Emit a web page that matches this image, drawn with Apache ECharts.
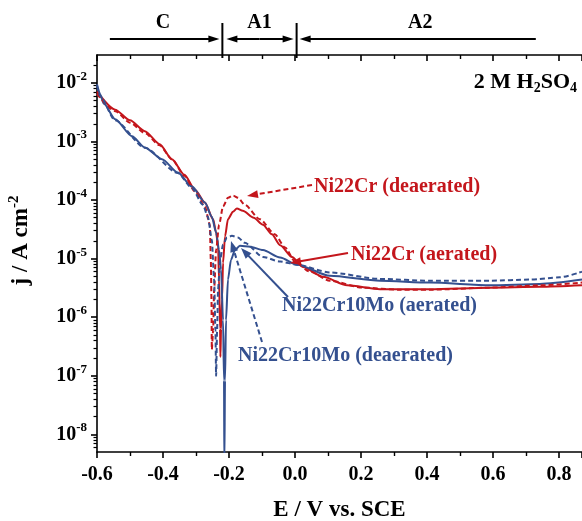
<!DOCTYPE html>
<html>
<head>
<meta charset="utf-8">
<script src="https://cdn.jsdelivr.net/npm/echarts@6/dist/echarts.min.js"></script>
<style>
html,body{margin:0;padding:0;background:#fff;}
#c{width:582px;height:521px;}
</style>
</head>
<body>
<div id="c"></div>
<script>
// ---------------- data (E in V vs SCE, j in A cm^-2) ----------------
const ncAerE = [-0.600,-0.545,-0.500,-0.455,-0.410,-0.373,-0.335,-0.303,-0.273,-0.248,-0.239,-0.233,-0.230,-0.227,-0.226,-0.224,-0.221,-0.218,-0.212,-0.203,-0.188,-0.176,-0.158,-0.125,-0.097,-0.070,-0.045,-0.009,0.024,0.085,0.158,0.258,0.409,0.591,0.742,0.870];
const ncAerJ = [7.1e-3,3.5e-3,2.3e-3,1.5e-3,9.0e-4,5.0e-4,2.7e-4,1.5e-4,9.1e-5,4.7e-5,2.8e-5,1.6e-5,4.4e-6,6.3e-7,2.1e-7,6.3e-7,2.0e-6,8.5e-6,2.4e-5,4.7e-5,6.3e-5,7.2e-5,6.6e-5,5.0e-5,3.8e-5,2.6e-5,1.7e-5,1.07e-5,7.2e-6,4.9e-6,3.5e-6,3.0e-6,3.0e-6,3.2e-6,3.3e-6,3.5e-6];

const ncDeaE = [-0.600,-0.545,-0.500,-0.455,-0.410,-0.373,-0.335,-0.303,-0.273,-0.258,-0.255,-0.253,-0.252,-0.248,-0.245,-0.239,-0.230,-0.218,-0.203,-0.188,-0.173,-0.152,-0.106,-0.061,-0.030,0.000,0.045,0.106,0.206,0.318,0.409,0.591,0.742,0.870];
const ncDeaJ = [6.5e-3,3.3e-3,2.1e-3,1.4e-3,8.6e-4,5.0e-4,2.6e-4,1.4e-4,7.8e-5,3.8e-5,9.5e-6,2.0e-6,2.8e-7,6.0e-7,3.0e-6,1.4e-5,3.8e-5,7.8e-5,1.1e-4,1.2e-4,1.1e-4,8.3e-5,4.7e-5,2.6e-5,1.55e-5,8.9e-6,6.0e-6,4.2e-6,3.2e-6,2.95e-6,2.95e-6,3.2e-6,3.5e-6,3.9e-6];

const nmAerE = [-0.600,-0.591,-0.579,-0.545,-0.494,-0.455,-0.403,-0.355,-0.312,-0.273,-0.252,-0.239,-0.230,-0.224,-0.218,-0.215,-0.214,-0.212,-0.209,-0.203,-0.194,-0.182,-0.167,-0.136,-0.097,-0.045,0.006,0.106,0.258,0.409,0.591,0.742,0.870];
const nmAerJ = [9.5e-3,6.5e-3,4.4e-3,2.4e-3,1.23e-3,7.9e-4,5.0e-4,2.95e-4,1.7e-4,9.1e-5,5.2e-5,2.8e-5,1.4e-5,6.5e-6,8.9e-7,8.3e-8,3.0e-9,8.3e-8,8.9e-7,4.4e-6,9.5e-6,1.4e-5,1.66e-5,1.6e-5,1.4e-5,1.05e-5,7.9e-6,5.1e-6,4.2e-6,3.9e-6,3.5e-6,3.7e-6,4.4e-6];

const nmDeaE = [-0.600,-0.591,-0.545,-0.455,-0.355,-0.312,-0.279,-0.264,-0.252,-0.245,-0.241,-0.239,-0.236,-0.233,-0.227,-0.218,-0.206,-0.191,-0.173,-0.152,-0.097,-0.045,0.006,0.106,0.258,0.409,0.591,0.712,0.803,0.870];
const nmDeaJ = [9.0e-3,6.0e-3,2.3e-3,7.8e-4,2.9e-4,1.6e-4,8.3e-5,5.2e-5,2.1e-5,4.4e-6,6.0e-7,1.0e-7,6.0e-7,3.0e-6,9.5e-6,1.74e-5,2.3e-5,2.45e-5,2.3e-5,1.86e-5,1.07e-5,8.9e-6,7.9e-6,5.8e-6,4.5e-6,4.2e-6,4.2e-6,4.4e-6,4.8e-6,6.0e-6];

const seriesNames = ['Ni22Cr (aerated)','Ni22Cr (deaerated)','Ni22Cr10Mo (aerated)','Ni22Cr10Mo (deaerated)'];
const yMajorTicks = [1e-8,1e-7,1e-6,1e-5,1e-4,1e-3,1e-2];
const xTickLabels = ['-0.6','-0.4','-0.2','0.0','0.2','0.4','0.6','0.8'];
const regionNames = ['C','A1','A2'];
const regionBounds = [-0.22, 0.005];

// ---------------- styling ----------------
const RED = '#c4161c';
const BLUE = '#34508f';
const FONT = '"Liberation Serif", "Times New Roman", serif';

const minorTicks = [];
for (let e = -9; e <= -2; e++) {
  for (let m = 2; m <= 9; m++) {
    const v = +(m + 'e' + e);
    if (v > 5e-9 && v < 3e-2) minorTicks.push(v);
  }
}

function zip(a, b) { return a.map((x, i) => [x, b[i]]); }

const chart = echarts.init(document.getElementById('c'), null, {renderer: 'canvas'});

const xCommon = {
  type: 'value', min: -0.6, max: 0.87, interval: 0.2,
  splitLine: {show: false}
};
const yCommon = { type: 'log', logBase: 10, min: 5e-9, max: 3e-2, splitLine: {show: false} };

function mkSeries(name, E, J, color, dashed) {
  return {
    name: name, type: 'line', data: zip(E, J), showSymbol: false, symbol: 'none',
    smooth: 0.25, smoothMonotone: 'x', clip: true,
    lineStyle: {color: color, width: 2, type: dashed ? [5, 3] : 'solid'},
    z: dashed ? 3 : 2, animation: false
  };
}

const option = {
  animation: false,
  backgroundColor: '#fff',
  grid: {left: 97, right: 0, top: 55, bottom: 69, containLabel: false, outerBoundsMode: 'none'},
  xAxis: [
    Object.assign({}, xCommon, {
      position: 'bottom',
      name: 'E / V vs. SCE', nameLocation: 'middle', nameGap: 47,
      nameTextStyle: {fontFamily: FONT, fontWeight: 'bold', fontSize: 23, color: '#000'},
      axisLine: {show: true, onZero: false, lineStyle: {color: '#000', width: 1.6}},
      axisTick: {show: true, inside: false, length: 6, lineStyle: {color: '#000', width: 1.6}},
      minorTick: {show: true, splitNumber: 2, length: 4, lineStyle: {color: '#000', width: 1.4}},
      axisLabel: {
        show: true, margin: 13, color: '#000', fontFamily: FONT, fontWeight: 'bold', fontSize: 20,
        showMaxLabel: false,
        formatter: function (v) {
          const s = (Math.round(v * 10) / 10).toFixed(1);
          return xTickLabels.indexOf(s) >= 0 ? s : '';
        }
      }
    }),
    Object.assign({}, xCommon, {
      position: 'top',
      axisLine: {show: true, onZero: false, lineStyle: {color: '#000', width: 1.6}},
      axisTick: {show: true, inside: true, length: 6, lineStyle: {color: '#000', width: 1.6}},
      minorTick: {show: true, splitNumber: 2, length: 4, lineStyle: {color: '#000', width: 1.4}},
      axisLabel: {show: false}
    })
  ],
  yAxis: [
    Object.assign({}, yCommon, {
      position: 'left',
      name: '{n|j / A cm}{s|-2}', nameLocation: 'middle', nameGap: 62, nameRotate: 90,
      nameTextStyle: {
        padding: [0, 0, 0, 26],
        rich: {
          n: {fontFamily: FONT, fontWeight: 'bold', fontSize: 23, color: '#000', lineHeight: 28},
          s: {fontFamily: FONT, fontWeight: 'bold', fontSize: 15, color: '#000', verticalAlign: 'top', lineHeight: 16}
        }
      },
      axisLine: {show: true, onZero: false, lineStyle: {color: '#000', width: 1.6}},
      axisTick: {show: true, inside: false, length: 6, customValues: yMajorTicks, lineStyle: {color: '#000', width: 1.6}},
      axisLabel: {
        show: true, margin: 10, customValues: yMajorTicks,
        formatter: function (v) {
          const e = Math.log10(v);
          if (Math.abs(e - Math.round(e)) > 1e-6) return '';
          return '{b|10}{s|' + Math.round(e) + '}';
        },
        rich: {
          b: {fontFamily: FONT, fontWeight: 'bold', fontSize: 20, color: '#000', lineHeight: 26},
          s: {fontFamily: FONT, fontWeight: 'bold', fontSize: 13, color: '#000', verticalAlign: 'top', lineHeight: 14}
        }
      }
    }),
    Object.assign({}, yCommon, {
      position: 'left',
      axisLine: {show: false, onZero: false},
      axisTick: {show: true, inside: false, length: 3.5, customValues: minorTicks, lineStyle: {color: '#000', width: 1.2}},
      axisLabel: {show: false}
    })
  ],
  series: [
    mkSeries(seriesNames[0], ncAerE, ncAerJ, RED, false),
    mkSeries(seriesNames[1], ncDeaE, ncDeaJ, RED, true),
    mkSeries(seriesNames[2], nmAerE, nmAerJ, BLUE, false),
    mkSeries(seriesNames[3], nmDeaE, nmDeaJ, BLUE, true)
  ]
};
chart.setOption(option);

// ---------------- annotations ----------------
function xpx(E) { return chart.convertToPixel({xAxisIndex: 0}, E); }

function arrowHead(tip, from, color, L, W) {
  const dx = tip[0] - from[0], dy = tip[1] - from[1];
  const len = Math.sqrt(dx * dx + dy * dy);
  const ux = dx / len, uy = dy / len;
  const nx = -uy, ny = ux;
  const bx = tip[0] - ux * L, by = tip[1] - uy * L;
  return {
    type: 'polygon', silent: true, z: 20,
    shape: {points: [tip, [bx + nx * W, by + ny * W], [bx - nx * W, by - ny * W]]},
    style: {fill: color}
  };
}
function arrow(from, tip, color, dashed, L, W) {
  L = L || 11; W = W || 4;
  const dx = tip[0] - from[0], dy = tip[1] - from[1];
  const len = Math.sqrt(dx * dx + dy * dy);
  const end = [tip[0] - dx / len * L * 0.8, tip[1] - dy / len * L * 0.8];
  return [
    {type: 'line', silent: true, z: 20,
     shape: {x1: from[0], y1: from[1], x2: end[0], y2: end[1]},
     style: {stroke: color, lineWidth: 2, lineDash: dashed ? [5, 3] : null}},
    arrowHead(tip, from, color, L, W)
  ];
}
function label(x, y, text, color) {
  return {type: 'text', silent: true, z: 21, x: x, y: y,
    style: {text: text, fill: color, font: 'bold 20px ' + FONT, textVerticalAlign: 'middle', textAlign: 'left'}};
}

const g = [];
g.push(label(314, 187, seriesNames[1], RED));
g.push(...arrow([312, 185], [247, 196], RED, true));
g.push(label(351, 255, seriesNames[0], RED));
g.push(...arrow([348, 253], [290, 263], RED, false));
g.push(label(282, 306, seriesNames[2], BLUE));
g.push(...arrow([288, 297], [241, 248], BLUE, false));
g.push(label(238, 356, seriesNames[3], BLUE));
g.push(...arrow([262, 342], [231, 241], BLUE, true));

// top region markers
const xb1 = xpx(regionBounds[0]), xb2 = xpx(regionBounds[1]);
const yA = 39;
g.push({type: 'line', silent: true, shape: {x1: xb1, y1: 23, x2: xb1, y2: 58}, style: {stroke: '#000', lineWidth: 2}});
g.push({type: 'line', silent: true, shape: {x1: xb2, y1: 23, x2: xb2, y2: 58}, style: {stroke: '#000', lineWidth: 2}});
g.push(...arrow([xpx(-0.561), yA], [xb1 - 3, yA], '#000', false, 11, 3.5));
g.push(...arrow([(xb1 + xb2) / 2, yA], [xb1 + 4, yA], '#000', false, 11, 3.5));
g.push(...arrow([(xb1 + xb2) / 2, yA], [xb2 - 3, yA], '#000', false, 11, 3.5));
g.push(...arrow([xpx(0.73), yA], [xb2 + 3, yA], '#000', false, 11, 3.5));
const regionLabelX = [xpx(-0.40), (xb1 + xb2) / 2, xpx(0.38)];
regionNames.forEach((n, i) => {
  g.push({type: 'text', silent: true, x: regionLabelX[i], y: 23,
    style: {text: n, fill: '#000', font: 'bold 20px ' + FONT, textAlign: 'center', textVerticalAlign: 'middle'}});
});
g.push({type: 'text', silent: true, right: 5, top: 71,
  style: {
    text: '{n|2 M H}{s|2}{n|SO}{s|4}',
    rich: {
      n: {font: 'bold 22px ' + FONT, fill: '#000', lineHeight: 26},
      s: {font: 'bold 14px ' + FONT, fill: '#000', verticalAlign: 'bottom', lineHeight: 18}
    }
  }});

chart.setOption({graphic: {elements: g}});
</script>
</body>
</html>
